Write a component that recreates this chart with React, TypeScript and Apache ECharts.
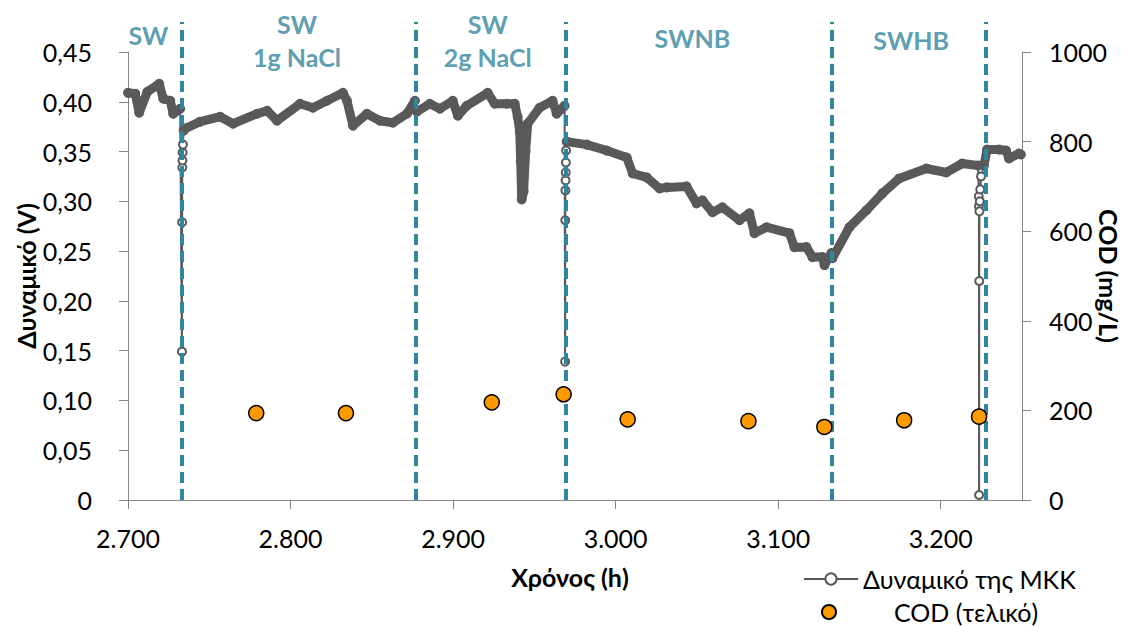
import React, { useEffect, useRef } from 'react';
import * as echarts from 'echarts';

const FONT = 'Lato, "Noto Sans", sans-serif';
const TEAL = '#31859C';
const GRAY = '#595959';
const AXIS = '#868686';

// Potential of the MFC (V) against time (h)
const potSW: [number, number][] = [
  [2700, 0.409], [2704.5, 0.408], [2706.9, 0.389], [2711.9, 0.41], [2719.2, 0.418],
  [2721.7, 0.403], [2726, 0.401], [2727.8, 0.388], [2732.1, 0.393],
];
const drop1: [number, number][] = [
  [2733.2, 0.149], [2733.3, 0.279], [2733.4, 0.334], [2733.5, 0.341], [2733.6, 0.349],
  [2733.8, 0.357], [2734.2, 0.371],
];
const potSW1g: [number, number][] = [
  [2735.2, 0.373], [2744.4, 0.38], [2756.7, 0.385], [2764.7, 0.378], [2779.4, 0.388],
  [2785.6, 0.391], [2791.7, 0.381], [2805.8, 0.398], [2813.8, 0.394], [2822.4, 0.401],
  [2832.2, 0.409], [2834.7, 0.401], [2838.4, 0.376], [2847, 0.388], [2855, 0.381],
  [2863, 0.379], [2871.6, 0.388], [2876.5, 0.401],
];
const potSW2g: [number, number][] = [
  [2877.7, 0.39], [2885.7, 0.398], [2891.9, 0.393], [2899.8, 0.401], [2902.9, 0.386],
  [2908.4, 0.396], [2921.3, 0.409], [2925.6, 0.398], [2933, 0.398], [2937.9, 0.398],
  [2939.7, 0.385], [2941, 0.37], [2941.6, 0.34], [2942.2, 0.302], [2943.4, 0.31],
  [2944.6, 0.35], [2945.9, 0.378], [2953.2, 0.394], [2961.2, 0.401], [2963.7, 0.388],
  [2968.6, 0.396],
];
const drop2: [number, number][] = [
  [2968.9, 0.139], [2969.0, 0.281], [2969.1, 0.311], [2969.2, 0.321], [2969.3, 0.329],
  [2969.4, 0.339], [2969.5, 0.351],
];
const potSWNB: [number, number][] = [
  [2969.9, 0.36], [2982.2, 0.357], [2994.5, 0.351], [3006.8, 0.344], [3010.5, 0.328],
  [3019.1, 0.324], [3027, 0.313], [3031.4, 0.314], [3043.6, 0.315], [3049.8, 0.298],
  [3053.4, 0.301], [3059.6, 0.289], [3065.7, 0.294], [3076.2, 0.281], [3082.3, 0.288],
  [3085.4, 0.268], [3092.8, 0.274], [3106.9, 0.268], [3110, 0.254], [3117.4, 0.254],
  [3121.1, 0.244], [3127.2, 0.244], [3128.5, 0.236], [3132.8, 0.248],
];
const potSWHB: [number, number][] = [
  [3133.4, 0.243], [3143.8, 0.274], [3154.3, 0.291], [3164.1, 0.308], [3174.5, 0.323],
  [3191.1, 0.333], [3203.4, 0.329], [3213.2, 0.338], [3223, 0.336],
];
const drop3: [number, number][] = [
  [3223.4, 0.305], [3223.5, 0.295], [3223.6, 0.005], [3223.7, 0.22], [3223.8, 0.29],
  [3224, 0.3], [3224.3, 0.312], [3224.8, 0.325],
];
const potEnd: [number, number][] = [
  [3226.6, 0.336], [3228.5, 0.352], [3235.9, 0.352], [3240.2, 0.351], [3242, 0.343],
  [3248.1, 0.348], [3249.3, 0.347],
];

// Final COD (mg/L)
const codTime = [2778.9, 2834.1, 2923.8, 2968.0, 3007.4, 3081.7, 3128.4, 3177.5, 3223.6];
const codValue = [194, 194, 218, 236, 180, 176, 163, 178, 186];

// Phases
const phaseBounds = [2733.2, 2876.8, 2969.2, 3132.7, 3227.6];
const phaseNames = ['SW', 'SW\n1g NaCl', 'SW\n2g NaCl', 'SWNB', 'SWHB'];
const phaseLabelX = [2712.5, 2804, 2921.3, 3047.2, 3181.8];
const phaseLabelY = [0.973, 0.962, 0.962, 0.967, 0.962];

const POT_NAME = 'Δυναμικό της ΜΚΚ';
const COD_NAME = 'COD (τελικό)';

const fmtThousands = (v: number) => {
  if (v % 100 !== 0) return '';
  const th = Math.floor(v / 1000);
  const rest = String(v % 1000).padStart(3, '0');
  return th + '.' + rest;
};
const fmtVolt = (v: number) => (Math.abs(v) < 1e-9 ? '0' : v.toFixed(2).replace('.', ','));

export default function App() {
  const ref = useRef<HTMLDivElement>(null);
  useEffect(() => {
    if (!ref.current) return;
    const chart = echarts.init(ref.current, undefined, { renderer: 'svg' });
    const bandStyle = { width: 9, color: GRAY, cap: 'round', join: 'round' };
    const bands = [potSW, potSW1g, potSW2g, [...potSWNB, ...potSWHB], potEnd].map((d, i) => ({
      name: 'band' + i,
      type: 'line',
      xAxisIndex: 0,
      yAxisIndex: 0,
      data: d,
      symbol: 'none',
      lineStyle: bandStyle,
      z: 3,
      silent: true,
      legendHoverLink: false,
    }));
    const allPot = [...potSW, ...drop1, ...potSW1g, ...potSW2g, ...drop2, ...potSWNB, ...potSWHB, ...drop3, ...potEnd];
    const legendText = { fontSize: 25, lineHeight: 26, color: '#000', fontFamily: FONT };
    const option: any = {
      animation: false,
      backgroundColor: '#fff',
      textStyle: { fontFamily: FONT },
      grid: [
        { left: 128, right: 106, top: 52, bottom: 126, outerBoundsMode: 'none', containLabel: false },
        { left: 128, right: 106, top: 22, bottom: 126, outerBoundsMode: 'none', containLabel: false },
      ],
      xAxis: [
        {
          type: 'value', gridIndex: 0, min: 2700, max: 3250, interval: 100,
          name: 'Χρόνος (h)', nameLocation: 'middle', nameGap: 64, nameMoveOverlap: false,
          nameTextStyle: { fontSize: 25, fontWeight: 'bold', color: '#000', fontFamily: FONT, padding: [0, 10, 0, 0] },
          axisLine: { lineStyle: { color: AXIS, width: 1 } },
          axisTick: { length: 9, lineStyle: { color: AXIS } },
          axisLabel: { fontSize: 25, color: '#000', margin: 25, formatter: fmtThousands, showMaxLabel: false, fontFamily: FONT },
          splitLine: { show: false },
        },
        { type: 'value', gridIndex: 1, min: 2700, max: 3250, show: false },
      ],
      yAxis: [
        {
          type: 'value', gridIndex: 0, min: 0, max: 0.45, interval: 0.05,
          name: 'Δυναμικό (V)', nameLocation: 'middle', nameGap: 90, nameRotate: 90, nameMoveOverlap: false,
          nameTextStyle: { fontSize: 25, fontWeight: 'bold', color: '#000', fontFamily: FONT },
          axisLine: { show: true, lineStyle: { color: AXIS, width: 1 } },
          axisTick: { show: true, length: 9, lineStyle: { color: AXIS } },
          axisLabel: { fontSize: 25, color: '#000', margin: 36, formatter: fmtVolt, fontFamily: FONT },
          splitLine: { show: false },
        },
        {
          type: 'value', gridIndex: 0, position: 'right', min: 0, max: 1000, interval: 200,
          name: 'COD (mg/L)', nameLocation: 'middle', nameGap: 74, nameRotate: -90, nameMoveOverlap: false,
          nameTextStyle: { fontSize: 25, fontWeight: 'bold', color: '#000', fontFamily: FONT },
          axisLine: { show: true, lineStyle: { color: AXIS, width: 1 } },
          axisTick: { show: true, length: 9, lineStyle: { color: AXIS } },
          axisLabel: { fontSize: 25, color: '#000', margin: 27, fontFamily: FONT, formatter: (v: number) => String(v) },
          splitLine: { show: false },
        },
        { type: 'value', gridIndex: 1, min: 0, max: 1, show: false },
      ],
      legend: [
        {
          orient: 'horizontal', left: 798, top: 561, itemWidth: 54, itemHeight: 14,
          data: [POT_NAME], textStyle: legendText,
        },
        {
          orient: 'horizontal', left: 816, top: 594, itemWidth: 54, itemHeight: 14,
          symbolKeepAspect: true,
          data: [{ name: COD_NAME, icon: 'circle' }],
          formatter: (n: string) => '{p|' + n + '}',
          textStyle: {
            ...legendText,
            rich: { p: { fontSize: 25, lineHeight: 26, color: '#000', fontFamily: FONT, padding: [0, 0, 0, 33] } },
          },
        },
      ],
      series: [
        {
          name: POT_NAME,
          type: 'line',
          xAxisIndex: 0,
          yAxisIndex: 0,
          data: allPot,
          symbol: 'emptyCircle',
          symbolSize: 8,
          showSymbol: true,
          showAllSymbol: true,
          itemStyle: { color: GRAY, borderColor: GRAY, borderWidth: 1.5 },
          lineStyle: { width: 2, color: GRAY },
          z: 2,
        },
        ...bands,
        {
          name: 'phases',
          type: 'scatter',
          xAxisIndex: 1,
          yAxisIndex: 2,
          symbolSize: 1,
          itemStyle: { color: 'transparent' },
          data: phaseNames.map((n, i) => ({ name: n, value: [phaseLabelX[i], phaseLabelY[i]] })),
          label: {
            show: true,
            position: 'inside',
            formatter: '{b}',
            color: TEAL,
            fontWeight: 'bold',
            fontSize: 25,
            lineHeight: 33,
            fontFamily: FONT,
          },
          markLine: {
            silent: true,
            symbol: ['none', 'none'],
            label: { show: false },
            lineStyle: { color: TEAL, width: 4, type: [11, 6] },
            data: phaseBounds.map((x) => ({ xAxis: x })),
          },
          z: 10,
          silent: true,
        },
        {
          name: COD_NAME,
          type: 'scatter',
          xAxisIndex: 0,
          yAxisIndex: 1,
          data: codTime.map((t, i) => [t, codValue[i]]),
          symbol: 'circle',
          symbolSize: 15,
          itemStyle: { color: '#FF9900', borderColor: '#000', borderWidth: 1.5, opacity: 1 },
          z: 12,
        },
      ],
    };
    chart.setOption(option);
    return () => chart.dispose();
  }, []);
  return <div ref={ref} style={{ position: 'absolute', left: 0, top: 0, width: 1128, height: 626 }} />;
}
